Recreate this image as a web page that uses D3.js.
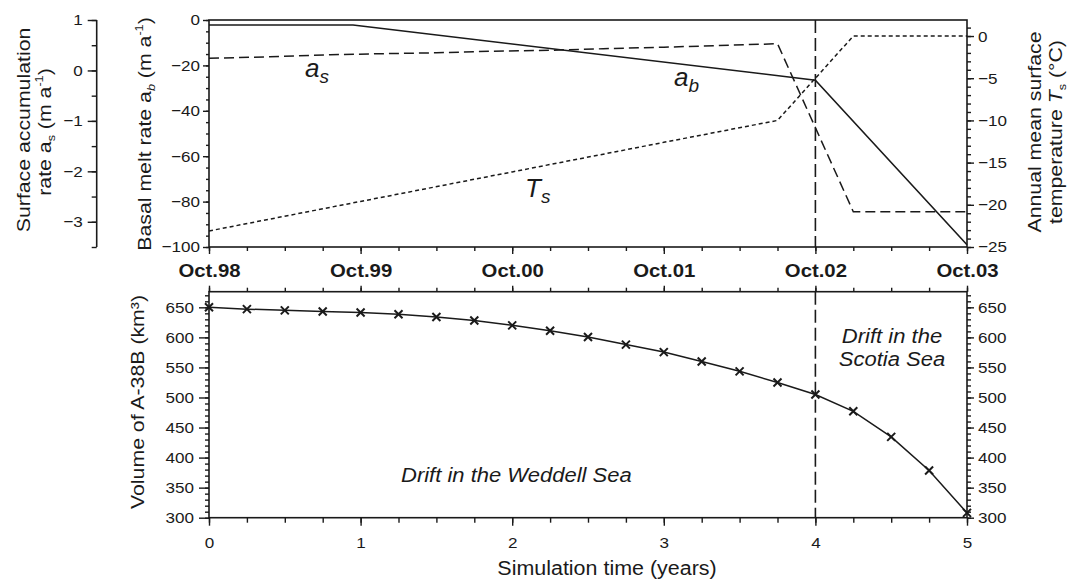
<!DOCTYPE html>
<html>
<head>
<meta charset="utf-8">
<script src="https://cdn.jsdelivr.net/npm/d3@7"></script>
<style>
  html, body { margin: 0; padding: 0; background: #fff; }
  svg { display: block; }
  text { font-family: "Liberation Sans", Arial, sans-serif; fill: #1a1a1a; }
</style>
</head>
<body>
<svg id="chart" width="1067" height="587"></svg>
<script>
// ---------------- DATA ----------------
const volYears = [0, 0.25, 0.5, 0.75, 1, 1.25, 1.5, 1.75, 2, 2.25, 2.5, 2.75, 3, 3.25, 3.5, 3.75, 4, 4.25, 4.5, 4.75, 5];
const volValues = [650, 647, 645, 643, 641.5, 638.5, 634, 628, 620, 611, 600.5, 588, 575.5, 560, 543.5, 525, 505, 477, 434.5, 378.5, 308];

const abYears = [0, 0.95, 4, 5];
const abValues = [-2.2, -2.2, -26.5, -99];

const asYears = [0, 0.4, 0.8, 1.1, 1.5, 1.85, 2.25, 2.6, 3.0, 3.75, 4.25, 5];
const asValues = [0.24, 0.27, 0.31, 0.33, 0.35, 0.38, 0.40, 0.43, 0.46, 0.53, -2.8, -2.8];

const tsYears = [0, 1, 2, 3, 3.75, 4.25, 5];
const tsValues = [-23.1, -19.6, -16.1, -12.6, -10, 0, 0];

const dateLabels = ["Oct.98", "Oct.99", "Oct.00", "Oct.01", "Oct.02", "Oct.03"];
const yearTicks = [0, 1, 2, 3, 4, 5];
const abTicks = [0, -20, -40, -60, -80, -100];
const asTicks = [1, 0, -1, -2, -3];
const tsTicks = [0, -5, -10, -15, -20, -25];
const volTicks = [300, 350, 400, 450, 500, 550, 600, 650];
const boundaryYear = 4;

// ---------------- LAYOUT ----------------
const svg = d3.select("#chart");
const L = 209, R = 967;
const T1 = 20, B1 = 247;
const T2 = 291.7, B2 = 517.7;
const INK = "#1a1a1a";

const x = d3.scaleLinear().domain([0, 5]).range([L, R]);
const yAb = d3.scaleLinear().domain([-100, 0]).range([B1, T1]);
const yAs = d3.scaleLinear().domain([-3.5, 1]).range([B1, T1]);
const yTs = d3.scaleLinear().domain([-25, 1.9]).range([B1, T1]);
const yV = d3.scaleLinear().domain([300, 676]).range([B2, T2]);

const fmt = d => String(d).replace("-", "\u2212");
const minorRange = (a, b, s) => d3.range(Math.round((b - a) / s) + 1).map(i => +(a + i * s).toFixed(4));

function styleAxis(g, fs, bold) {
  g.select(".domain").remove();
  g.selectAll("line").attr("stroke", INK).attr("stroke-width", 1.4);
  g.selectAll("text").attr("font-size", fs).attr("font-weight", bold ? "bold" : "normal").attr("fill", INK);
}

function addAxis(axisFn, scale, major, minor, majorLen, minorLen, pad, fs, transform, labels, bold) {
  const gm = svg.append("g").attr("transform", transform)
    .call(axisFn(scale).tickValues(minor).tickSize(minorLen).tickFormat(""));
  styleAxis(gm, fs);
  const a = axisFn(scale).tickValues(major).tickSize(majorLen).tickPadding(pad)
    .tickFormat(labels ? ((d, i) => labels[i]) : fmt);
  const g = svg.append("g").attr("transform", transform).call(a);
  styleAxis(g, fs, bold);
  return g;
}

// ---------------- TOP PANEL ----------------
svg.append("rect").attr("x", L).attr("y", T1).attr("width", R - L).attr("height", B1 - T1)
  .attr("fill", "none").attr("stroke", INK).attr("stroke-width", 1.6);

// a_b axis (left)
addAxis(d3.axisLeft, yAb, abTicks, minorRange(-100, 0, 5), 6, 3, 3, 15.5, `translate(${L},0)`);
// a_s axis (far left)
svg.append("line").attr("x1", 96.7).attr("x2", 96.7).attr("y1", yAs(1)).attr("y2", yAs(-3.5))
  .attr("stroke", INK).attr("stroke-width", 1.6);
addAxis(d3.axisLeft, yAs, asTicks, minorRange(-3.5, 1, 0.5), 9, 5, 5, 15.5, `translate(96.7,0)`);
// T_s axis (right)
addAxis(d3.axisRight, yTs, tsTicks, minorRange(-25, 1, 1), 7, 4, 4, 15.5, `translate(${R},0)`);
// date axis (bottom of top panel)
addAxis(d3.axisBottom, x, yearTicks, minorRange(0, 5, 0.25), 7, 4, 10, 18.5, `translate(0,${B1})`, dateLabels, true);

// lines
const lineGen = (ys) => d3.line().x(d => x(d[0])).y(d => ys(d[1]));
const topG = svg.append("g");
topG.append("path").datum(tsYears.map((t, i) => [t, tsValues[i]]))
  .attr("d", lineGen(yTs)).attr("fill", "none").attr("stroke", INK).attr("stroke-width", 1.5)
  .attr("stroke-dasharray", "4,3");
topG.append("path").datum(asYears.map((t, i) => [t, asValues[i]]))
  .attr("d", lineGen(yAs)).attr("fill", "none").attr("stroke", INK).attr("stroke-width", 1.5)
  .attr("stroke-dasharray", "10,5");
topG.append("path").datum(abYears.map((t, i) => [t, abValues[i]]))
  .attr("d", lineGen(yAb)).attr("fill", "none").attr("stroke", INK).attr("stroke-width", 1.6);
topG.append("line").attr("x1", x(boundaryYear)).attr("x2", x(boundaryYear)).attr("y1", T1).attr("y2", B1)
  .attr("stroke", INK).attr("stroke-width", 1.6).attr("stroke-dasharray", "13,5");

// series labels
function seriesLabel(px, py, main, sub) {
  const t = svg.append("text").attr("x", px).attr("y", py).attr("font-size", 26).attr("font-style", "italic");
  t.append("tspan").text(main);
  t.append("tspan").attr("font-size", 19).attr("dy", 6).text(sub);
  return t;
}
seriesLabel(305, 77, "a", "s");
seriesLabel(674, 86, "a", "b");
seriesLabel(525, 197, "T", "s");

// ---------------- BOTTOM PANEL ----------------
svg.append("rect").attr("x", L).attr("y", T2).attr("width", R - L).attr("height", B2 - T2)
  .attr("fill", "none").attr("stroke", INK).attr("stroke-width", 1.6);

addAxis(d3.axisLeft, yV, volTicks, minorRange(300, 670, 10), 10, 4, 5, 15.5, `translate(${L},0)`);
addAxis(d3.axisRight, yV, volTicks, minorRange(300, 670, 10), 7, 4, 4, 15.5, `translate(${R},0)`);
addAxis(d3.axisBottom, x, yearTicks, minorRange(0, 5, 0.25), 8, 5, 11, 15.5, `translate(0,${B2})`);
// top edge ticks pointing up (no labels)
{
  const g1 = svg.append("g").attr("transform", `translate(0,${T2})`)
    .call(d3.axisTop(x).tickValues(minorRange(0, 5, 0.25)).tickSize(4).tickFormat(""));
  styleAxis(g1, 15.5);
  const g2 = svg.append("g").attr("transform", `translate(0,${T2})`)
    .call(d3.axisTop(x).tickValues(yearTicks).tickSize(6).tickFormat(""));
  styleAxis(g2, 15.5);
}

const volData = volYears.map((t, i) => [t, volValues[i]]);
svg.append("line").attr("x1", x(boundaryYear)).attr("x2", x(boundaryYear)).attr("y1", T2).attr("y2", B2)
  .attr("stroke", INK).attr("stroke-width", 1.6).attr("stroke-dasharray", "13,5");
svg.append("path").datum(volData).attr("d", lineGen(yV))
  .attr("fill", "none").attr("stroke", INK).attr("stroke-width", 1.5);
svg.append("g").selectAll("path.mk").data(volData).join("path").attr("class", "mk")
  .attr("transform", d => `translate(${x(d[0])},${yV(d[1])})`)
  .attr("d", "M-4,-4L4,4M-4,4L4,-4").attr("stroke", INK).attr("stroke-width", 2).attr("fill", "none");

svg.append("text").attr("x", 401).attr("y", 482).attr("font-size", 20).attr("font-style", "italic")
  .attr("class", "str").text("Drift in the Weddell Sea");
svg.append("text").attr("x", 892).attr("y", 343).attr("font-size", 20).attr("font-style", "italic")
  .attr("text-anchor", "middle").attr("class", "str").text("Drift in the");
svg.append("text").attr("x", 892).attr("y", 366).attr("font-size", 20).attr("font-style", "italic")
  .attr("text-anchor", "middle").attr("class", "str").text("Scotia Sea");

// ---------------- AXIS TITLES ----------------
svg.append("text").attr("x", 607).attr("y", 575).attr("text-anchor", "middle").attr("font-size", 19.5)
  .attr("class", "str").text("Simulation time (years)");

function vTitle(px, py, build) {
  const t = svg.append("text").attr("x", px).attr("y", py).attr("text-anchor", "middle")
    .attr("font-size", 18.5).attr("class", "ttl").attr("transform", `rotate(-90,${px},${py})`);
  build(t);
  return t;
}
vTitle(30, 130, t => t.text("Surface accumulation"));
vTitle(51, 132, t => {
  t.append("tspan").text("rate a");
  t.append("tspan").attr("font-size", 11).attr("dy", 4).text("s");
  t.append("tspan").attr("dy", -4).text(" (m a");
  t.append("tspan").attr("font-size", 11).attr("dy", -8).text("-1");
  t.append("tspan").attr("dy", 8).text(")");
});
vTitle(151, 134, t => {
  t.append("tspan").text("Basal melt rate a");
  t.append("tspan").attr("font-size", 11).attr("font-style", "italic").attr("dy", 4).text("b");
  t.append("tspan").attr("dy", -4).text("  (m a");
  t.append("tspan").attr("font-size", 11).attr("dy", -8).text("-1");
  t.append("tspan").attr("dy", 8).text(")");
});
vTitle(144, 402, t => t.text("Volume of A-38B (km³)"));
vTitle(1041, 132, t => t.text("Annual mean surface"));
vTitle(1062, 132, t => {
  t.append("tspan").text("temperature ");
  t.append("tspan").attr("font-style", "italic").text("T");
  t.append("tspan").attr("font-size", 11).attr("dy", 4).text("s");
  t.append("tspan").attr("dy", -4).text(" (°C)");
});

// widen glyphs (reference font is wider than Arial)
function widen(sel, k) {
  sel.each(function () {
    const w = this.getComputedTextLength();
    if (w > 0) {
      this.setAttribute("textLength", (w * k).toFixed(1));
      this.setAttribute("lengthAdjust", "spacingAndGlyphs");
    }
  });
}
widen(svg.selectAll("g text, text.str"), 1.1);
widen(svg.selectAll("text.ttl"), 1.15);
</script>
</body>
</html>
